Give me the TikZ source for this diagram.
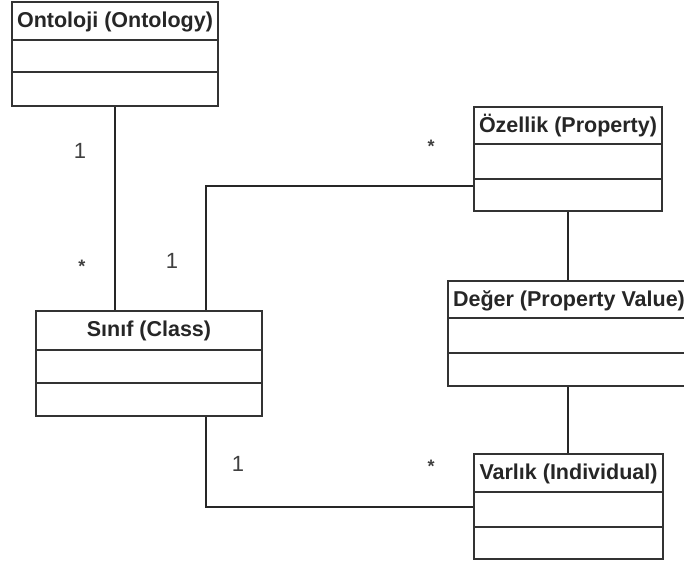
\documentclass[tikz,border=0pt]{standalone}
\usepackage{fontspec}
\setmainfont{Liberation Sans}
\usetikzlibrary{calc}

% UML class box: name, x, y (top left), width, three compartment heights, total height, title
\newcommand\umlclass[9]{%
  \node[classbox, minimum width=#4, minimum height=#8] (#1) at (#2,#3) {};
  \node[classtitle] (#1-t) at ($(#1.north)+(0,25.5)$) {#9};
  \draw[classrule] ($(#1.north west)+(0,#5)$) -- ($(#1.north east)+(0,#5)$);
  \draw[classrule] ($(#1.north west)+(0,#5+#6)$) -- ($(#1.north east)+(0,#5+#6)$);
}

\begin{document}
\begin{tikzpicture}[x=1pt,y=-1pt,
  classbox/.style={draw=black!80, line width=1.6pt, fill=white, inner sep=0pt, outer sep=0pt, anchor=north west},
  classrule/.style={draw=black!80, line width=1.6pt},
  classtitle/.style={font=\fontsize{21.5}{26}\selectfont\bfseries, text=black!85, inner sep=0pt, anchor=base},
  mult/.style={font=\fontsize{22}{26}\selectfont, text=black!75, inner sep=0pt, anchor=base},
  star/.style={font=\fontsize{18}{22}\selectfont\bfseries, text=black!75, inner sep=0pt, anchor=base},
  link/.style={draw=black!85, line width=1.2pt}]
\useasboundingbox (0,0) rectangle (684,567);
\clip (0,0) rectangle (684,567);
\fill[white] (0,0) rectangle (684,567);

% connectors first, so the boxes sit on top of their ends
\coordinate (sj) at (206,311);
\coordinate (oz) at (474,186);
\draw[link] (115,106) -- (115,311);
\draw[link] (sj) |- (oz);
\draw[link] (206,416) |- (474,507);
\draw[link] (568,211) -- (568,281);
\draw[link] (568,386) -- (568,454);

\umlclass{onto}{12}{2}{206}{38}{32}{34}{104}{Ontoloji (Ontology)}
\umlclass{ozel}{474}{107}{188}{37}{35}{32}{104}{Özellik (Property)}
\umlclass{deger}{448}{281}{242}{37}{35}{33}{105}{Değer (Property Value)}
\umlclass{varlik}{474}{454}{189}{38}{35}{32}{105}{Varlık (Individual)}
\umlclass{sinif}{36}{311}{226}{39}{33}{33}{105}{Sınıf (Class)}

% multiplicities
\node[mult] (m1) at (80,158) {1};
\node[star] (m2) at (82,272) {*};
\node[mult] (m3) at (172,268) {1};
\node[star] (m4) at (431,152) {*};
\node[mult] (m5) at (238,471) {1};
\node[star] (m6) at (431,472) {*};
\end{tikzpicture}
\end{document}
